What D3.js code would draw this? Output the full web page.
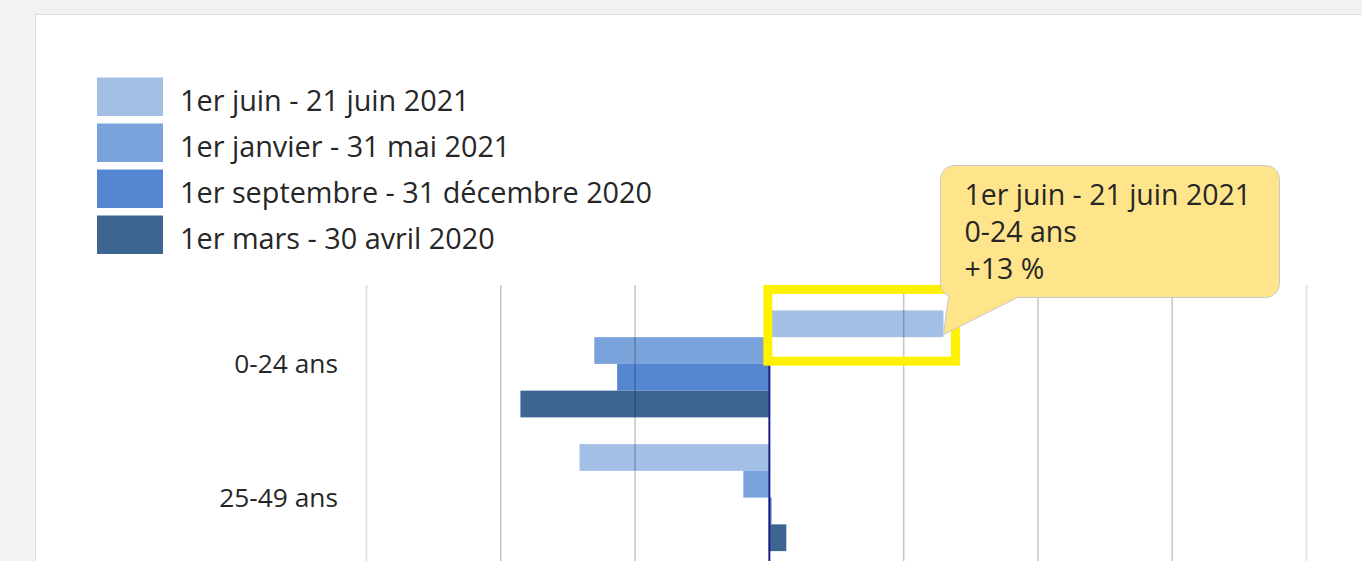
<!DOCTYPE html>
<html>
<head>
<meta charset="utf-8">
<script src="https://cdn.jsdelivr.net/npm/d3@7"></script>
<style>
  body { margin: 0; background: #f2f2f2; overflow: hidden; }
  svg { display: block; font-family: "Open Sans", "Noto Sans", sans-serif; }
</style>
</head>
<body>
<script>
// categories and series
var ages = ["0-24 ans", "25-49 ans"];
var periods = ["1er juin - 21 juin 2021", "1er janvier - 31 mai 2021",
               "1er septembre - 31 décembre 2020", "1er mars - 30 avril 2020"];
var colors = ["#a3bfe6", "#7aa3db", "#5586d1", "#3d6591"];

// % change, one array per period (same order as ages)
var juin2021 = [13, -14.1];
var janvier2021 = [-13, -1.9];
var septembre2020 = [-11.3, 0.2];
var mars2020 = [-18.5, 1.3];
var seriesValues = [juin2021, janvier2021, septembre2020, mars2020];

var xTicks = [-30, -20, -10, 0, 10, 20, 30, 40];

// highlighted bar (tooltip)
var hiAge = 0, hiPeriod = 0;

var W = 1362, H = 561;
var svg = d3.select("body").append("svg").attr("width", W).attr("height", H);

// card
svg.append("rect")
    .attr("x", 35.5).attr("y", 14.5)
    .attr("width", W).attr("height", H)
    .attr("fill", "#fff").attr("stroke", "#dedede");

// scales
var plotTop = 285, plotH = 291.5;
var x = d3.scaleLinear().domain([-30, 40]).range([366, 1306]);
var y0 = d3.scaleBand().domain(ages).range([plotTop, plotTop + plotH])
    .paddingInner(0.2).paddingOuter(0.19);
var y1 = d3.scaleBand().domain(d3.range(periods.length)).range([0, y0.bandwidth()]);

// legend
var legend = svg.append("g").attr("transform", "translate(97,77.5)");
var item = legend.selectAll("g").data(periods).enter().append("g")
    .attr("transform", function(d, i) { return "translate(0," + (i * 46) + ")"; });
item.append("rect")
    .attr("width", 66).attr("height", 38.5)
    .attr("fill", function(d, i) { return colors[i]; });
item.append("text")
    .attr("x", 83).attr("y", 33)
    .style("font-size", "28.8px").attr("fill", "#262626")
    .text(function(d) { return d; });

// bars
var groups = svg.append("g").selectAll("g").data(ages).enter().append("g")
    .attr("transform", function(d) { return "translate(0," + y0(d) + ")"; });
groups.selectAll("rect")
    .data(function(d, a) { return seriesValues.map(function(s, p) { return {p: p, v: s[a]}; }); })
    .enter().append("rect")
    .attr("x", function(d) { return x(Math.min(0, d.v)); })
    .attr("y", function(d) { return y1(d.p); })
    .attr("width", function(d) { return Math.abs(x(d.v) - x(0)); })
    .attr("height", y1.bandwidth())
    .attr("fill", function(d) { return colors[d.p]; });

// grid lines (drawn over the bars, translucent); tick labels fall below the visible area
var xAxis = d3.axisBottom(x).tickValues(xTicks).tickSize(-plotH).tickFormat("");
var gx = svg.append("g")
    .attr("transform", "translate(0," + (plotTop + plotH) + ")")
    .call(xAxis);
gx.select(".domain").remove();
gx.selectAll(".tick line")
    .attr("stroke", function(d) { return d === 0 ? "#1c1c86" : "#000"; })
    .attr("stroke-opacity", function(d) { return d === 0 ? 1 : (d === -30 || d === 40 ? 0.13 : 0.22); })
    .attr("stroke-width", function(d) { return d === 0 ? 2 : 1.6; });

// category labels
svg.append("g").selectAll("text").data(ages).enter().append("text")
    .attr("x", 338)
    .attr("y", function(d) { return y0(d) + y0.bandwidth() / 2 + 9; })
    .attr("text-anchor", "end")
    .style("font-size", "26.3px").attr("fill", "#262626")
    .text(function(d) { return d; });

// highlight box around the hovered bar
var hv = seriesValues[hiPeriod][hiAge];
var bx0 = x(0), bx1 = x(hv);
var by0 = y0(ages[hiAge]) + y1(hiPeriod), by1 = by0 + y1.bandwidth();
svg.append("rect")
    .attr("x", bx0 - 1).attr("y", by0 - 21)
    .attr("width", bx1 - bx0 + 13).attr("height", by1 - by0 + 45)
    .attr("fill", "none").attr("stroke", "#fff200").attr("stroke-width", 9);

// tooltip
var tipX = 940.5, tipY = 165.5, tipW = 339, tipH = 132;
var tip = svg.append("g");
var tipFill = "#fee48b";
tip.append("rect")
    .attr("x", tipX).attr("y", tipY).attr("width", tipW).attr("height", tipH)
    .attr("rx", 14).attr("fill", tipFill).attr("stroke", "#c8c8c8");
tip.append("path")
    .attr("d", "M" + (tipX + 8) + "," + (tipY + tipH - 0.5) +
               "L" + bx1 + "," + (by1 - 2.5) +
               "L" + (tipX + 78) + "," + (tipY + tipH - 0.5))
    .attr("fill", tipFill).attr("stroke", "#c8c8c8");
tip.append("rect")
    .attr("x", tipX + 9).attr("y", tipY + tipH - 3).attr("width", 68).attr("height", 3)
    .attr("fill", tipFill);
var tipLines = [periods[hiPeriod], ages[hiAge], (hv > 0 ? "+" : "") + d3.format(".0f")(hv) + " %"];
tip.selectAll("text").data(tipLines).enter().append("text")
    .attr("x", tipX + 24)
    .attr("y", function(d, i) { return 204.5 + i * 37; })
    .style("font-size", "28.5px").attr("fill", "#262626")
    .text(function(d) { return d; });
</script>
</body>
</html>
